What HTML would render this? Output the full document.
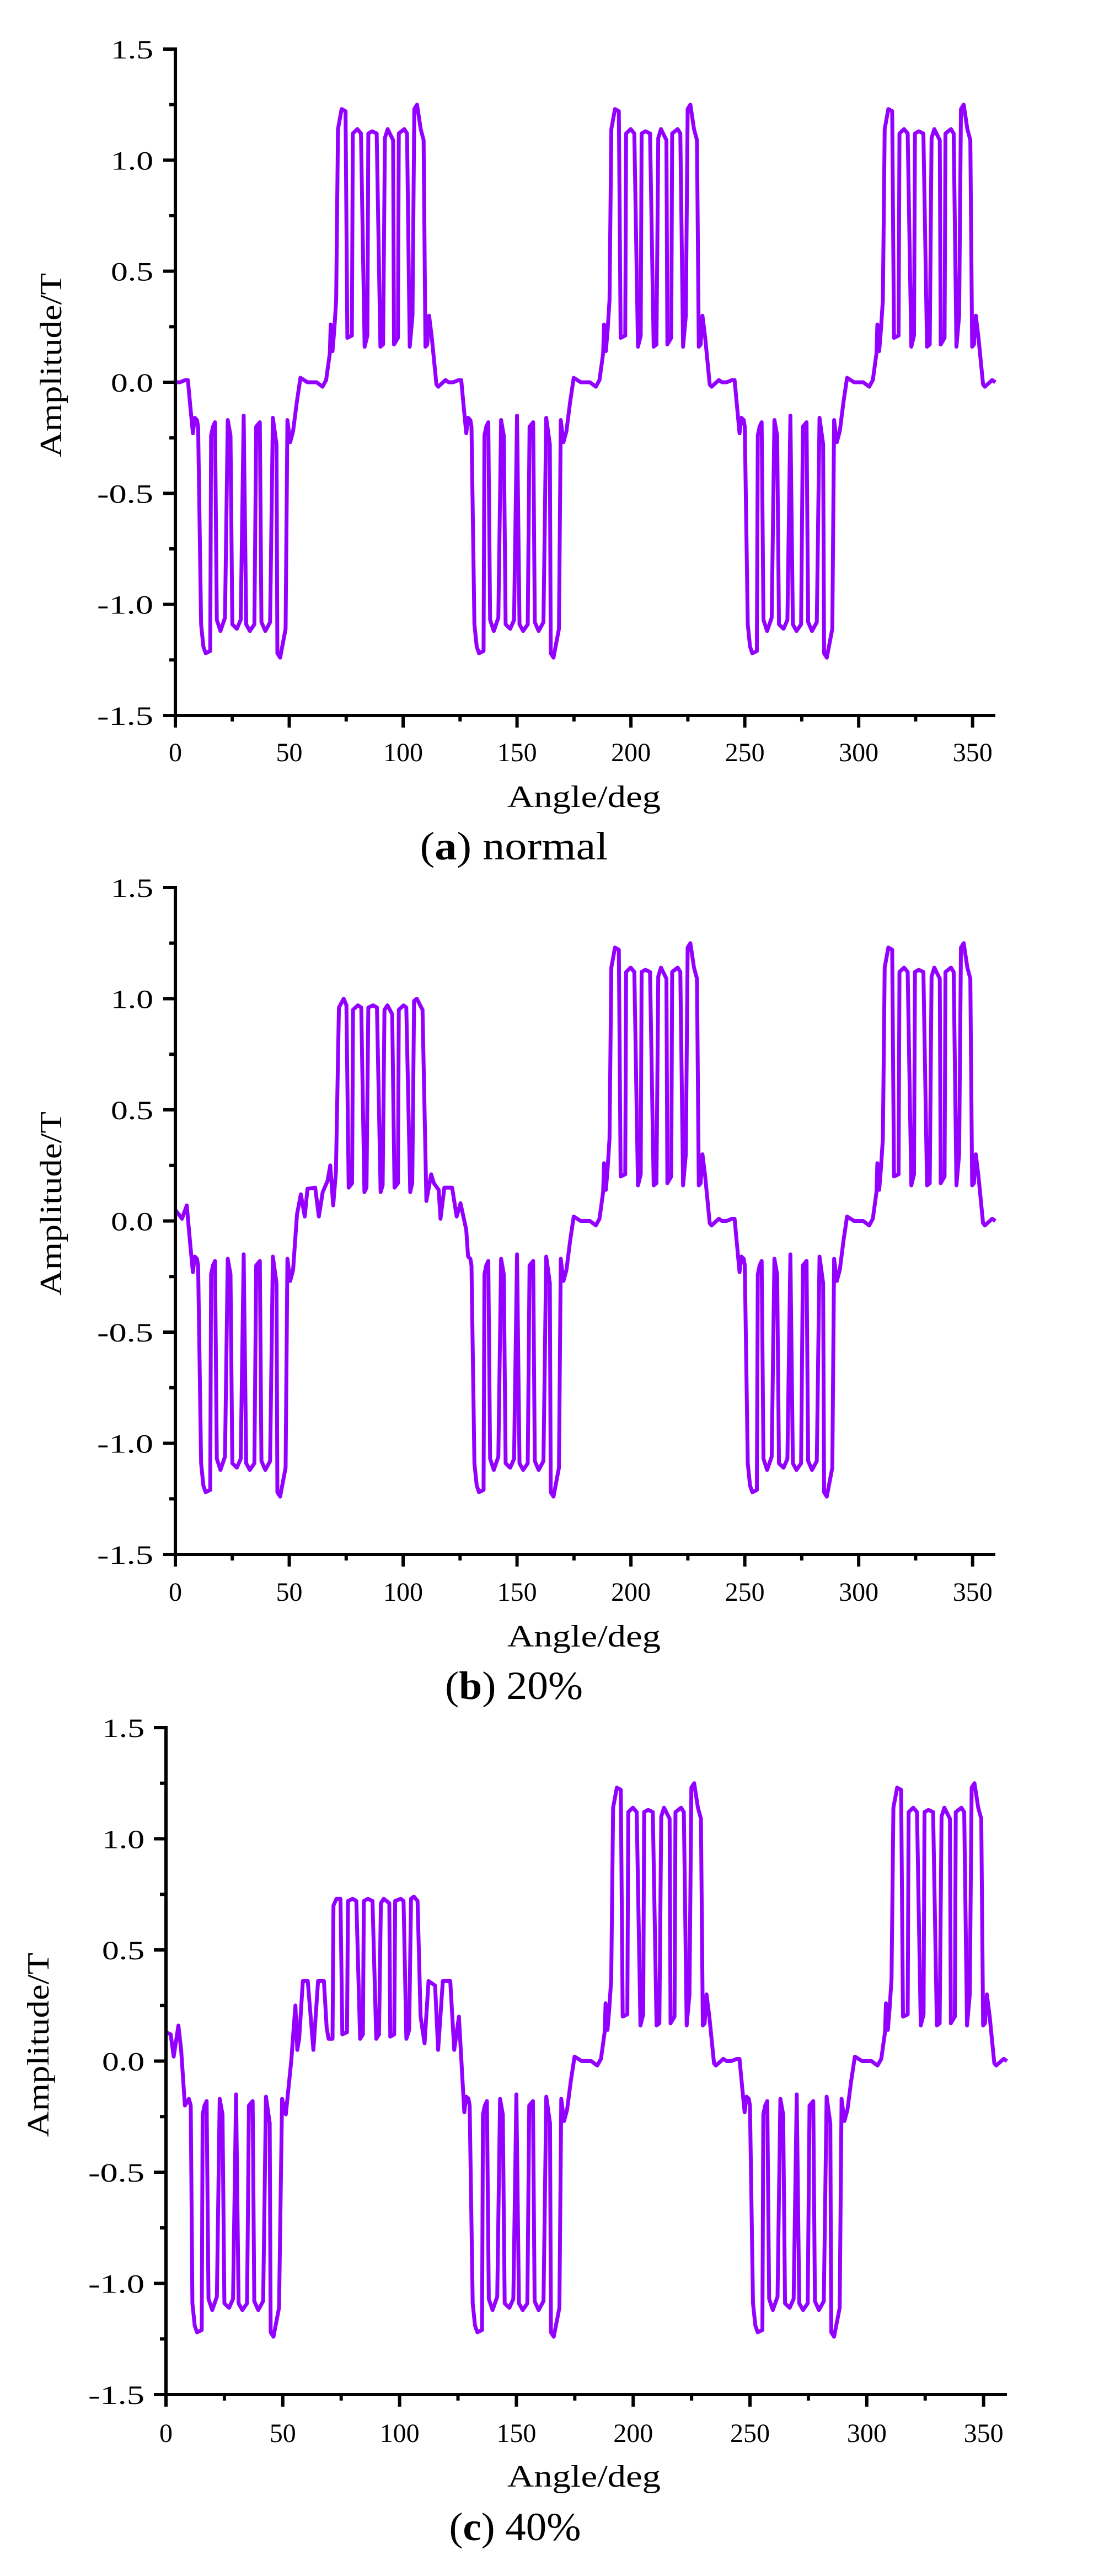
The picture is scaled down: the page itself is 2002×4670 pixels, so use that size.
<!DOCTYPE html>
<html>
<head>
<meta charset="utf-8">
<style>
  html, body { margin: 0; padding: 0; background: #ffffff; }
  body { width: 2002px; height: 4670px; overflow: hidden; }
  svg { display: block; }
  .tick-label { font-family: "Liberation Serif", serif; font-size: 48px; fill: #000; }
  .axis-title { font-family: "Liberation Serif", serif; font-size: 56px; fill: #000; }
  .caption { font-family: "Liberation Serif", serif; font-size: 72px; fill: #000; }
</style>
</head>
<body>
<svg id="chart" width="2002" height="4670" viewBox="0 0 2002 4670" xmlns="http://www.w3.org/2000/svg">
  <rect x="0" y="0" width="2002" height="4670" fill="#ffffff"/>
</svg>
<script>
// ---------- data ----------
const xTicks = [0, 50, 100, 150, 200, 250, 300, 350];
const yTicks = [-1.5, -1.0, -0.5, 0.0, 0.5, 1.0, 1.5];
const yTickLabels = ["-1.5", "-1.0", "-0.5", "0.0", "0.5", "1.0", "1.5"];
const captionLetters = ["a", "b", "c"];
const captionTexts = [" normal", " 20%", " 40%"];

// one 120-degree cycle of the healthy waveform
const normalCycleAngles = [0, 2, 4.4, 5.5, 6.5, 7.7, 8.5, 9.5, 10, 11.3, 12.3, 13.3, 15.3, 15.7, 16.5, 17.4, 18.2, 19.8, 21.8, 23, 24.2, 25, 27, 28.7, 30, 31.1, 32.7, 34.7, 35.5, 37.1, 37.8, 39.5, 41.6, 42.8, 44.4, 44.8, 46, 48.4, 49.2, 50.4, 51.7, 53.3, 54.9, 58, 62, 64.6, 66.2, 67.8, 68.2, 69, 69.8, 70.6, 71.4, 73, 74.7, 75.5, 77.5, 77.9, 79.9, 81.5, 83.1, 84.3, 84.7, 86.4, 88.4, 90, 91.2, 92, 93.2, 95.6, 96, 97.7, 98.1, 100.5, 101.7, 102.9, 104.1, 104.9, 106.1, 107.7, 109, 109.8, 110.6, 111.4, 112.6, 114.6, 115.4, 118.6, 120];
const normalCycleValues = [0, 0, 0.01, 0.01, -0.1, -0.23, -0.16, -0.17, -0.2, -1.09, -1.19, -1.22, -1.21, -0.24, -0.2, -0.18, -1.07, -1.12, -1.06, -0.17, -0.24, -1.09, -1.11, -1.07, -0.15, -1.09, -1.12, -1.09, -0.2, -0.18, -1.08, -1.12, -1.08, -0.16, -0.28, -1.22, -1.24, -1.11, -0.17, -0.27, -0.22, -0.09, 0.02, 0, 0, -0.02, 0.01, 0.13, 0.26, 0.14, 0.24, 0.37, 1.14, 1.23, 1.22, 0.2, 0.21, 1.12, 1.14, 1.12, 0.16, 0.21, 1.12, 1.13, 1.12, 0.16, 0.17, 1.1, 1.14, 1.09, 0.17, 0.2, 1.12, 1.14, 1.12, 0.16, 0.3, 1.23, 1.25, 1.14, 1.09, 0.16, 0.17, 0.3, 0.2, -0.01, -0.02, 0.01, 0];

// first cycle with 20% fault
const fault20Angles = [0, 2.9, 5, 6.5, 7.7, 8.5, 9.5, 10, 11.3, 12.3, 13.3, 15.3, 15.7, 16.5, 17.4, 18.2, 19.8, 21.8, 23, 24.2, 25, 27, 28.7, 30, 31.1, 32.7, 34.7, 35.5, 37.1, 37.8, 39.5, 41.6, 42.8, 44.4, 44.8, 46, 48.4, 49.2, 50.4, 51.7, 53.4, 55.1, 56.8, 58, 61.4, 63, 64.7, 66.8, 68, 69.3, 70.5, 71.8, 73.9, 75.1, 76.1, 77.6, 78, 80.1, 81.6, 83, 83.9, 84.7, 86.8, 88.5, 90.1, 91, 91.8, 93.1, 95.2, 96.2, 97.7, 98.1, 100.2, 101.4, 103.1, 104, 104.8, 106, 108.5, 110.2, 112.3, 113.5, 115.6, 116.4, 118.1, 121.5, 123.5, 125.2, 127.7];
const fault20Values = [0.05, 0.01, 0.07, -0.1, -0.23, -0.16, -0.17, -0.2, -1.09, -1.19, -1.22, -1.21, -0.24, -0.2, -0.18, -1.07, -1.12, -1.06, -0.17, -0.24, -1.09, -1.11, -1.07, -0.15, -1.09, -1.12, -1.09, -0.2, -0.18, -1.08, -1.12, -1.08, -0.16, -0.28, -1.22, -1.24, -1.11, -0.17, -0.27, -0.22, 0.03, 0.12, 0.02, 0.145, 0.15, 0.02, 0.13, 0.18, 0.25, 0.07, 0.22, 0.96, 1.0, 0.97, 0.15, 0.17, 0.95, 0.97, 0.96, 0.13, 0.15, 0.96, 0.97, 0.96, 0.13, 0.16, 0.95, 0.97, 0.93, 0.15, 0.17, 0.95, 0.97, 0.96, 0.13, 0.17, 0.99, 1.0, 0.95, 0.09, 0.21, 0.17, 0.14, 0.01, 0.15, 0.15, 0.02, 0.08, -0.04];

// first cycle with 40% fault
const fault40Angles = [0, 2, 3.3, 5.3, 6.5, 8.1, 9.8, 10.6, 11.3, 12.3, 13.3, 15.3, 15.7, 16.5, 17.4, 18.2, 19.8, 21.8, 23, 24.2, 25, 27, 28.7, 30, 31.1, 32.7, 34.7, 35.5, 37.1, 37.8, 39.5, 41.6, 42.8, 44.4, 44.8, 46, 48.4, 49.7, 51.3, 53.7, 54.6, 55.4, 56.2, 57, 58.6, 60.7, 63.1, 65.1, 67.6, 68.8, 69.6, 71.3, 71.7, 73, 74.7, 75.5, 77.5, 77.9, 79.9, 81.5, 83.1, 84.3, 84.7, 86.4, 88.4, 90, 91.2, 92, 93.2, 95.6, 96, 97.7, 98.1, 100.5, 101.7, 102.9, 104.1, 104.9, 106.1, 107.7, 109, 110.7, 112.4, 115.2, 116.5, 118.5, 121.7, 123.4, 125.4, 127];
const fault40Values = [0.13, 0.12, 0.02, 0.16, 0.05, -0.2, -0.17, -0.2, -1.09, -1.19, -1.22, -1.21, -0.24, -0.2, -0.18, -1.07, -1.12, -1.06, -0.17, -0.24, -1.09, -1.11, -1.07, -0.15, -1.09, -1.12, -1.09, -0.2, -0.18, -1.08, -1.12, -1.08, -0.16, -0.28, -1.22, -1.24, -1.11, -0.17, -0.24, 0.01, 0.14, 0.25, 0.05, 0.1, 0.36, 0.36, 0.05, 0.36, 0.36, 0.15, 0.1, 0.1, 0.7, 0.73, 0.73, 0.12, 0.13, 0.72, 0.73, 0.72, 0.1, 0.12, 0.72, 0.73, 0.72, 0.1, 0.12, 0.71, 0.73, 0.71, 0.11, 0.12, 0.72, 0.73, 0.72, 0.1, 0.14, 0.73, 0.74, 0.72, 0.2, 0.08, 0.36, 0.34, 0.05, 0.36, 0.36, 0.05, 0.2, -0.1];

// ---------- layout ----------
const panels = [
  { name: "normal", top: 89, bottom: 1297, left: 318, right: 1805, labelRight: 278, xLabelBase: 1380, xTitleBase: 1463, yTitleX: 93, yTitleY: 662, capBase: 1558, capCenter: 932, capLen: 341, firstA: normalCycleAngles, firstV: normalCycleValues },
  { name: "20-percent", top: 1609, bottom: 2818, left: 318, right: 1805, labelRight: 278, xLabelBase: 2902, xTitleBase: 2985, yTitleX: 93, yTitleY: 2182, capBase: 3080, capCenter: 932, capLen: 250, firstA: fault20Angles, firstV: fault20Values },
  { name: "40-percent", top: 3132, bottom: 4341, left: 301, right: 1826, labelRight: 262, xLabelBase: 4427, xTitleBase: 4508, yTitleX: 70, yTitleY: 3707, capBase: 4605, capCenter: 934, capLen: 239, firstA: fault40Angles, firstV: fault40Values }
];

const NS = "http://www.w3.org/2000/svg";
const svg = document.getElementById("chart");
function mk(tag, attrs, parent) {
  const e = document.createElementNS(NS, tag);
  for (const k in attrs) e.setAttribute(k, attrs[k]);
  (parent || svg).appendChild(e);
  return e;
}

panels.forEach((p, pi) => {
  const g = mk("g", {});
  
  
  const xs = v => p.left + (v / 360) * (p.right - p.left);
  const ys = v => p.bottom - ((v + 1.5) / 3) * (p.bottom - p.top);

  const angles = [], vals = [];
  p.firstA.forEach((a, i) => { angles.push(a); vals.push(p.firstV[i]); });
  const lastA = p.firstA[p.firstA.length - 1];
  [120, 240].forEach(off => {
    normalCycleAngles.forEach((a, i) => {
      const aa = a + off;
      if (aa > angles[angles.length - 1] && aa > lastA) { angles.push(aa); vals.push(normalCycleValues[i]); }
    });
  });
  let d = "";
  angles.forEach((a, i) => { d += (i ? "L" : "M") + xs(a).toFixed(1) + " " + ys(vals[i]).toFixed(1); });
  const line = mk("path", { d: d, fill: "none", stroke: "#9400ff", "stroke-width": 7, "stroke-linejoin": "round" }, g);
  
  

  const ax = mk("g", { stroke: "#000", "stroke-width": 6 }, g);
  
  
  mk("line", { x1: p.left, y1: p.top - 3, x2: p.left, y2: p.bottom + 3 }, ax);
  mk("line", { x1: p.left - 3, y1: p.bottom, x2: p.right, y2: p.bottom }, ax);
  for (let v = -1.5; v <= 1.5001; v += 0.25) {
    const major = Math.abs(v * 2 - Math.round(v * 2)) < 1e-6;
    mk("line", { x1: p.left - (major ? 22 : 11), y1: ys(v), x2: p.left, y2: ys(v) }, ax);
  }
  for (let v = 0; v <= 360; v += 25) {
    const major = v % 50 === 0;
    mk("line", { x1: xs(v), y1: p.bottom, x2: xs(v), y2: p.bottom + (major ? 22 : 11) }, ax);
  }

  yTicks.forEach((v, i) => {
    const t = mk("text", { class: "tick-label", x: p.labelRight, y: ys(v) + 17, "text-anchor": "end", textLength: yTickLabels[i].length === 4 ? 102 : 77, lengthAdjust: "spacingAndGlyphs" }, g);
    t.textContent = yTickLabels[i];
    
    
  });
  xTicks.forEach(v => {
    const s = String(v);
    const t = mk("text", { class: "tick-label", x: xs(v), y: p.xLabelBase, "text-anchor": "middle", textLength: s.length * 24, lengthAdjust: "spacingAndGlyphs" }, g);
    t.textContent = s;
    
    
  });

  const xt = mk("text", { class: "axis-title", x: 1059, y: p.xTitleBase, "text-anchor": "middle", textLength: 278, lengthAdjust: "spacingAndGlyphs" }, g);
  xt.textContent = "Angle/deg";
  
  
  const yt = mk("text", { class: "axis-title", x: 0, y: 0, "text-anchor": "middle", textLength: 334, lengthAdjust: "spacingAndGlyphs", transform: "translate(" + (p.yTitleX + 18) + "," + p.yTitleY + ") rotate(-90)" }, g);
  yt.textContent = "Amplitude/T";
  
  

  const cap = mk("text", { class: "caption", x: p.capCenter, y: p.capBase, "text-anchor": "middle", textLength: p.capLen, lengthAdjust: "spacingAndGlyphs" }, g);
  
  
  const t1 = mk("tspan", {}, cap); t1.textContent = "(";
  const t2 = mk("tspan", { "font-weight": "bold" }, cap); t2.textContent = captionLetters[pi];
  const t3 = mk("tspan", {}, cap); t3.textContent = ")" + captionTexts[pi];
});
</script>
</body>
</html>
